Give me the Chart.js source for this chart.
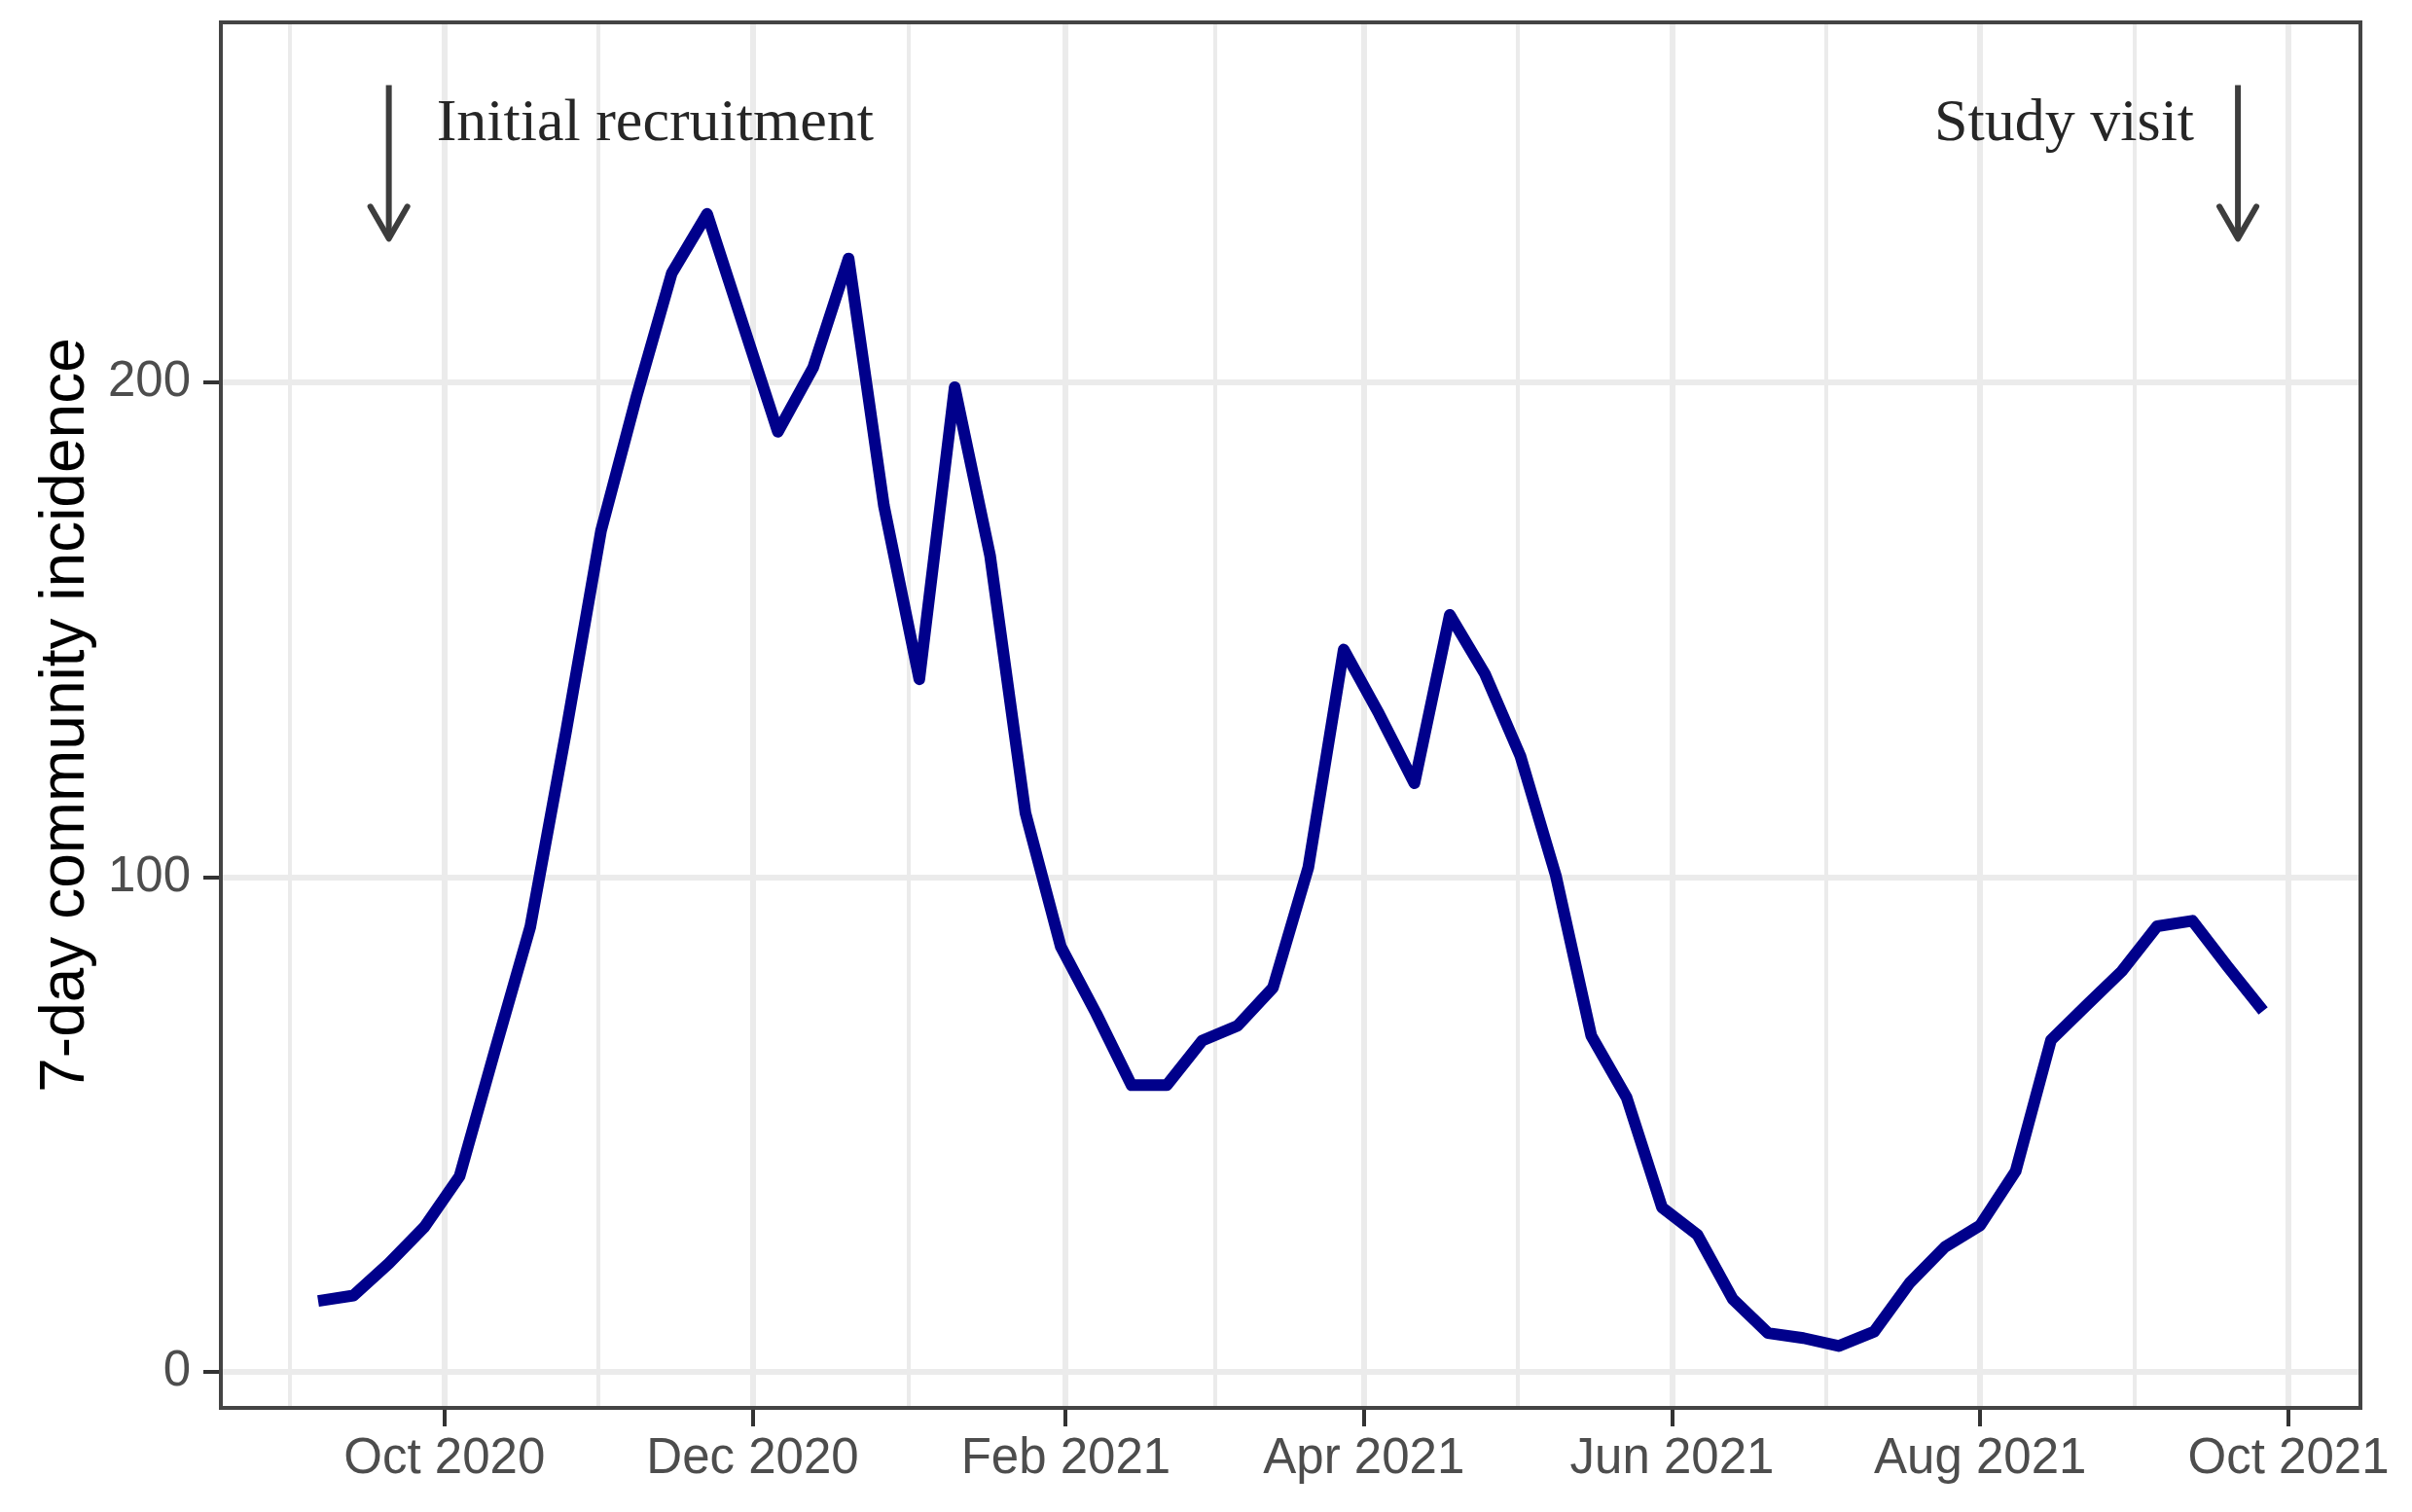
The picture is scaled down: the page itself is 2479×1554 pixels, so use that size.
<!DOCTYPE html>
<html>
<head>
<meta charset="utf-8">
<title>7-day community incidence</title>
<script src="https://cdn.jsdelivr.net/npm/chart.js@4.4.0/dist/chart.umd.min.js"></script>
<style>
  html, body { margin: 0; padding: 0; background: #fff; }
  canvas { display: block; }
</style>
</head>
<body>
<canvas id="incidenceChart" width="2479" height="1554"></canvas>
<script>
// Weekly 7-day community incidence
const weekDates = [
    '2020-09-06', '2020-09-13', '2020-09-20', '2020-09-27', '2020-10-04', '2020-10-11',
    '2020-10-18', '2020-10-25', '2020-11-01', '2020-11-08', '2020-11-15', '2020-11-22',
    '2020-11-29', '2020-12-06', '2020-12-13', '2020-12-20', '2020-12-27', '2021-01-03',
    '2021-01-10', '2021-01-17', '2021-01-24', '2021-01-31', '2021-02-07', '2021-02-14',
    '2021-02-21', '2021-02-28', '2021-03-07', '2021-03-14', '2021-03-21', '2021-03-28',
    '2021-04-04', '2021-04-11', '2021-04-18', '2021-04-25', '2021-05-02', '2021-05-09',
    '2021-05-16', '2021-05-23', '2021-05-30', '2021-06-06', '2021-06-13', '2021-06-20',
    '2021-06-27', '2021-07-04', '2021-07-11', '2021-07-18', '2021-07-25', '2021-08-01',
    '2021-08-08', '2021-08-15', '2021-08-22', '2021-08-29', '2021-09-05', '2021-09-12',
    '2021-09-19', '2021-09-26'
];
const incidence = [
    14.4, 15.5, 22, 29.3, 39.6, 65, 90, 129, 170, 197, 222, 234,
    212, 190, 203, 225, 175, 140, 199, 165, 113, 86, 72.5, 58,
    58, 67, 70, 77.7, 102, 146, 133, 119, 153, 141, 124.4, 100.3,
    68, 55.5, 33.3, 27.8, 14.8, 7.9, 6.9, 5.3, 8.2, 18, 25.3, 29.7,
    40.6, 67.1, 74.1, 81, 90.1, 91.2, 81.9, 73
];

// Axis breaks
const xTickDates = ['2020-08-01', '2020-10-01', '2020-12-01', '2021-02-01', '2021-04-01',
                    '2021-06-01', '2021-08-01', '2021-10-01'];
const xTickLabels = ['Aug 2020', 'Oct 2020', 'Dec 2020', 'Feb 2021', 'Apr 2021',
                     'Jun 2021', 'Aug 2021', 'Oct 2021'];
const yTickValues = [0, 100, 200];

// Arrow annotations
const noteDates = ['2020-09-20', '2021-09-21'];
const noteLabels = ['Initial recruitment', 'Study visit'];
const arrowFrom = 260;
const arrowTo = 229;
const noteBaseline = 249;

const firstDay = Date.parse(weekDates[0]);
const lastDay = Date.parse(weekDates[weekDates.length - 1]);
const pad = (lastDay - firstDay) * 0.05;
const xMin = firstDay - pad;
const xMax = lastDay + pad;

const sans = '"Liberation Sans", Arial, sans-serif';

// major + minor (midpoint) breaks, like ggplot
function buildXTicks() {
    const majors = xTickDates.map((d, i) => ({ value: Date.parse(d), text: xTickLabels[i], isMajor: true }));
    const minors = [];
    for (let i = 0; i < majors.length - 1; i++) {
        minors.push({ value: (majors[i].value + majors[i + 1].value) / 2, text: '', isMajor: false });
    }
    return majors.concat(minors)
        .filter(t => t.value >= xMin && t.value <= xMax)
        .sort((a, b) => a.value - b.value);
}

const panelBorder = {
    id: 'panelBorder',
    afterDraw(chart) {
        const { ctx, chartArea: a } = chart;
        ctx.save();
        ctx.strokeStyle = '#444444';
        ctx.lineWidth = 4;
        ctx.strokeRect(a.left, a.top, a.right - a.left, a.bottom - a.top);
        ctx.restore();
    }
};

const arrowNotes = {
    id: 'arrowNotes',
    afterDatasetsDraw(chart) {
        const { ctx, scales: { x, y } } = chart;
        ctx.save();
        noteDates.forEach((d, i) => {
            const px = x.getPixelForValue(Date.parse(d));
            const yTop = y.getPixelForValue(arrowFrom);
            const yTip = y.getPixelForValue(arrowTo);
            ctx.strokeStyle = '#3d3d3d';
            ctx.lineWidth = 6;
            ctx.lineCap = 'butt';
            ctx.beginPath();
            ctx.moveTo(px, yTop);
            ctx.lineTo(px, yTip);
            ctx.stroke();
            ctx.lineCap = 'round';
            ctx.lineJoin = 'round';
            ctx.beginPath();
            ctx.moveTo(px - 19, yTip - 33);
            ctx.lineTo(px, yTip);
            ctx.lineTo(px + 19, yTip - 33);
            ctx.stroke();

            ctx.font = '62px "Liberation Serif", "Times New Roman", serif';
            ctx.fillStyle = '#262626';
            ctx.textBaseline = 'alphabetic';
            const ty = y.getPixelForValue(noteBaseline);
            if (i === 0) {
                ctx.textAlign = 'left';
                ctx.fillText(noteLabels[i], px + 49, ty);
            } else {
                ctx.textAlign = 'right';
                ctx.fillText(noteLabels[i], px - 45, ty);
            }
        });
        ctx.restore();
    }
};

const ctx = document.getElementById('incidenceChart').getContext('2d');

new Chart(ctx, {
    type: 'line',
    data: {
        datasets: [{
            label: '7-day community incidence',
            data: weekDates.map((d, i) => ({ x: Date.parse(d), y: incidence[i] })),
            borderColor: '#00008B',
            borderWidth: 12,
            borderJoinStyle: 'round',
            borderCapStyle: 'butt',
            pointRadius: 0,
            tension: 0,
            fill: false
        }]
    },
    options: {
        responsive: false,
        animation: false,
        devicePixelRatio: 1,
        layout: { padding: { top: 23, right: 53, left: 0, bottom: 0 } },
        plugins: {
            legend: { display: false },
            tooltip: { enabled: false }
        },
        scales: {
            x: {
                type: 'linear',
                min: xMin,
                max: xMax,
                afterBuildTicks: (scale) => { scale.ticks = buildXTicks(); },
                afterFit: (scale) => { scale.height = 107; },
                border: { display: false },
                grid: {
                    color: '#ebebeb',
                    lineWidth: (c) => (c.tick && c.tick.isMajor ? 6 : 4),
                    tickColor: (c) => (c.tick && c.tick.isMajor ? '#333333' : 'rgba(0,0,0,0)'),
                    tickWidth: 4,
                    tickLength: 19
                },
                ticks: {
                    autoSkip: false,
                    maxRotation: 0,
                    minRotation: 0,
                    padding: 3,
                    color: '#4d4d4d',
                    font: { family: sans, size: 51 },
                    callback: (value, index, ticks) => ticks[index].text || ''
                }
            },
            y: {
                min: -7.2,
                max: 272.7,
                afterBuildTicks: (scale) => { scale.ticks = yTickValues.map(v => ({ value: v })); },
                afterFit: (scale) => {
                    scale.width = 227;
                    scale.paddingTop = 0;
                    scale.paddingBottom = 0;
                },
                border: { display: false },
                grid: {
                    color: '#ebebeb',
                    lineWidth: 6,
                    tickColor: '#333333',
                    tickWidth: 4,
                    tickLength: 18
                },
                ticks: {
                    padding: 13,
                    color: '#4d4d4d',
                    font: { family: sans, size: 51 }
                },
                title: {
                    display: true,
                    text: '7-day community incidence',
                    color: '#000000',
                    font: { family: sans, size: 64 },
                    padding: { top: 30 }
                }
            }
        }
    },
    plugins: [arrowNotes, panelBorder]
});
</script>
</body>
</html>
